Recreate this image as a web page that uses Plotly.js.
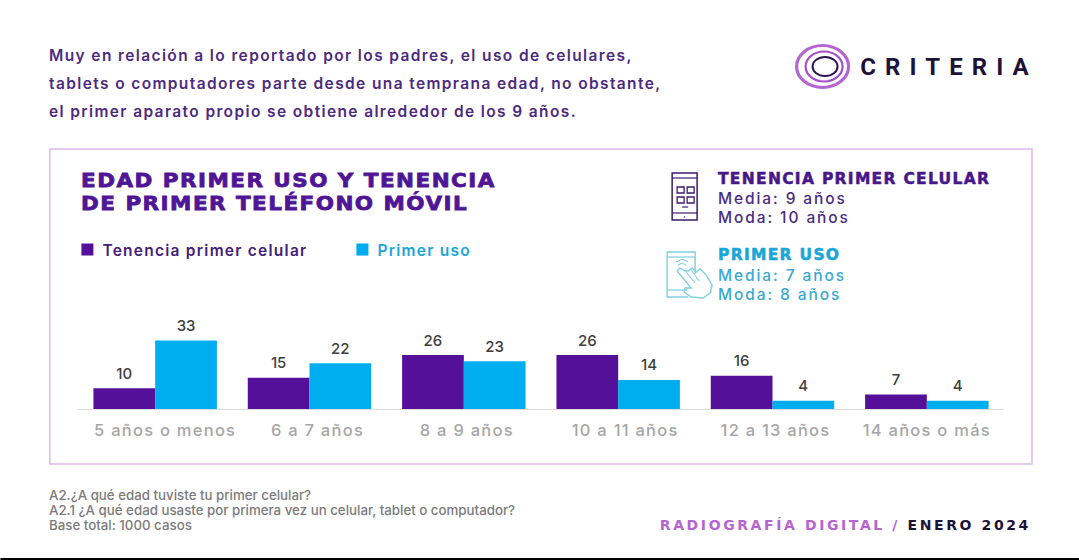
<!DOCTYPE html>
<html lang="es"><head><meta charset="utf-8">
<script src="https://cdn.plot.ly/plotly-3.0.1.min.js"></script>
<style id="dyn">html,body{margin:0;padding:0;background:#fff;overflow:hidden}
#chart{width:1079px;height:560px}
.xtick text{letter-spacing:1.25px}
.xtick:nth-of-type(1) text{translate:10px 0}
.xtick:nth-of-type(2) text{translate:8px 0}
.xtick:nth-of-type(3) text{translate:3px 0}
.xtick:nth-of-type(4) text{translate:7px 0}
.xtick:nth-of-type(5) text{translate:3px 0}
.xtick:nth-of-type(6) text{translate:0 0}
.barlayer text{translate:0 -2.5px}
.legend text{letter-spacing:1.25px;translate:-5px 0}
.legend .traces:nth-of-type(2) text{fill:#1ba6d8 !important}
</style></head><body><div id="chart"></div>
<script>
const categories=['5 años o menos','6 a 7 años','8 a 9 años','10 a 11 años','12 a 13 años','14 años o más'];
const tenencia=[10,15,26,26,16,7];
const primerUso=[33,22,23,14,4,4];
const seriesNames=['Tenencia primer celular','Primer uso'];
const seriesColors=['#55109a','#00aeef'];
const introLines=['Muy en relación a lo reportado por los padres, el uso de celulares,','tablets o computadores parte desde una temprana edad, no obstante,','el primer aparato propio se obtiene alrededor de los 9 años.'];
const titleLines=['EDAD PRIMER USO Y TENENCIA','DE PRIMER TELÉFONO MÓVIL'];
const footLines=['A2.¿A qué edad tuviste tu primer celular?','A2.1 ¿A qué edad usaste por primera vez un celular, tablet o computador?','Base total: 1000 casos'];

const W=1079,H=560,L=77.6,R=1004,T=300,B=409;
const px=x=>(x-L)/(R-L), py=y=>(B-y)/(B-T);
const sans='Inter, "Open Sans", sans-serif', heavy='"DejaVu Sans", sans-serif';
const notes=[];
const spacing=[];
const extraCss=[];
function note(x,y,text,size,color,ls,opt){opt=opt||{};
 notes.push({xref:'paper',yref:'paper',x:px(x),y:py(y),text:text,showarrow:false,xanchor:opt.anchor||'left',yanchor:'middle',align:opt.anchor||'left',
  font:{family:opt.family||sans,size:size,color:color,weight:opt.weight||500}});
 spacing.push(ls);extraCss.push(opt.css||'');}
[55,83,111].forEach((y,i)=>note(47,y,introLines[i],15.5,'#4c2a80',1.38,{weight:600}));
const widen='stroke:#4f1596;stroke-width:.8px;transform-box:fill-box;transform-origin:left center;scale:1.1 1;';
[180,203].forEach((y,i)=>note(79,y,titleLines[i],19.5,'#4f1596',1.36,{family:heavy,weight:700,css:widen}));
note(1041,67,'CRITERIA',24,'#1d1238',9.1,{anchor:'right',family:'Roboto, sans-serif',weight:700});
note(716,179,'TENENCIA PRIMER CELULAR',15.5,'#47168a',1.3,{family:heavy,weight:700,css:'stroke:#47168a;stroke-width:.5px;'});
note(716,198,'Media: 9 años',15.5,'#4b2c7e',1.9,{weight:500});
note(716,217,'Moda: 10 años',15.5,'#4b2c7e',1.9,{weight:500});
note(716,255,'PRIMER USO',15.5,'#1ba6d8',1.3,{family:heavy,weight:700,css:'stroke:#1ba6d8;stroke-width:.5px;'});
note(716,275,'Media: 7 años',15.5,'#38a9cf',1.9,{weight:500});
note(716,294,'Moda: 8 años',15.5,'#38a9cf',1.9,{weight:500});
[495,510,525].forEach((y,i)=>note(47,y,footLines[i],13.3,'#7b7b7b',0,{}));
note(1033,525,'<span style="color:#b565d0">RADIOGRAFÍA DIGITAL / </span><span style="color:#1d1238">ENERO 2024</span>',14,'#1d1238',2.6,{anchor:'right',family:heavy,weight:700});

const purple='#3c1a6e', cyan='#7fd0e0';
function box(x0,y0,x1,y1,c,w,fill){return {type:'rect',xref:'paper',yref:'paper',x0:px(x0),x1:px(x1),y0:py(y0),y1:py(y1),line:{color:c,width:w},fillcolor:fill||'rgba(0,0,0,0)'};}
function oval(cx,cy,rx,ry,c,w){return {type:'circle',xref:'paper',yref:'paper',x0:px(cx-rx),x1:px(cx+rx),y0:py(cy-ry),y1:py(cy+ry),line:{color:c,width:w}};}
function poly(pts,c,w){return {type:'path',xref:'paper',yref:'paper',path:pts.map((p,i)=>(i?'L':'M')+px(p[0]).toFixed(5)+','+py(p[1]).toFixed(5)).join(' '),line:{color:c,width:w}};}
const shapes=[
 box(49.5,149,1032,464,'#dcb9ea',1.5),
 {type:'rect',xref:'paper',yref:'paper',x0:px(0),x1:px(W),y0:py(558),y1:py(560),line:{width:0},fillcolor:'#000'},
 oval(822.5,66.5,26,21,'#b565d0',3.2),
 oval(824,66.5,18.5,15,'#a64fc8',2.2),
 oval(825,66.5,12.5,9.5,'#2c1450',2),
 box(672,173,697,220,purple,1.5),
 poly([[672,178],[697,178]],purple,1.2),
 poly([[672,213],[697,213]],purple,1.2),
 box(677,187,684,193,purple,1.3),box(687,187,694,193,purple,1.3),
 box(677,197,684,203,purple,1.3),box(687,197,694,203,purple,1.3),
 poly([[682,207],[688,207]],purple,1.2),
 poly([[684,217],[685,217]],purple,1.3),
 poly([[695,274],[695,252],[667,252],[667,297],[688,297]],cyan,1.4),
 poly([[667,257],[695,257]],cyan,1.2),
 poly([[667,290],[687,290]],cyan,1.2),
 poly([[676,262],[682,259],[688,262]],cyan,1.1),
 poly([[678,265],[682,263],[686,265]],cyan,1.1),
 poly([[680,268],[677,271],[691,288],[685,288],[684,292],[691,297],[703,298],[710,293],[712,285],[706,275],[700,269],[696,272],[692,268],[688,271],[685,271],[680,268]],cyan,1.4),
 poly([[686,272],[695,283]],cyan,1.1),
 poly([[691,270],[699,281]],cyan,1.1),
];

const traces=[tenencia,primerUso].map((v,i)=>({type:'bar',name:seriesNames[i],x:categories,y:v,text:v.map(String),textposition:'outside',cliponaxis:false,
 marker:{color:seriesColors[i],line:{width:0}},textfont:{family:sans,size:15,color:'#3d3d3d',weight:500},hoverinfo:'x+y'}));
const layout={width:W,height:H,paper_bgcolor:'#fff',plot_bgcolor:'rgba(0,0,0,0)',margin:{l:L,r:W-R,t:T,b:H-B,pad:0},
 barmode:'group',bargap:.2,bargroupgap:0,showlegend:true,
 legend:{orientation:'h',x:px(67),y:py(250),xanchor:'left',yanchor:'middle',entrywidth:230,entrywidthmode:'pixels',bgcolor:'rgba(0,0,0,0)',traceorder:'normal',font:{family:sans,size:15.5,color:'#43207a',weight:600},itemclick:false,itemdoubleclick:false},
 xaxis:{type:'category',categoryorder:'array',categoryarray:categories,showline:true,linecolor:'#dddddd',linewidth:1,ticks:'',ticklabelstandoff:6,tickfont:{family:sans,size:16.5,color:'#a6a6a6',weight:500},showgrid:false,zeroline:false,fixedrange:true},
 yaxis:{range:[0,52.5],visible:false,fixedrange:true},
 annotations:notes,shapes:shapes};
let css='';spacing.forEach((s,i)=>{css+='g.annotation[data-index="'+i+'"] text{letter-spacing:'+s+'px;'+extraCss[i]+'}\n';});
document.getElementById('dyn').appendChild(document.createTextNode(css));
Plotly.newPlot('chart',traces,layout,{displayModeBar:false});
</script></body></html>
